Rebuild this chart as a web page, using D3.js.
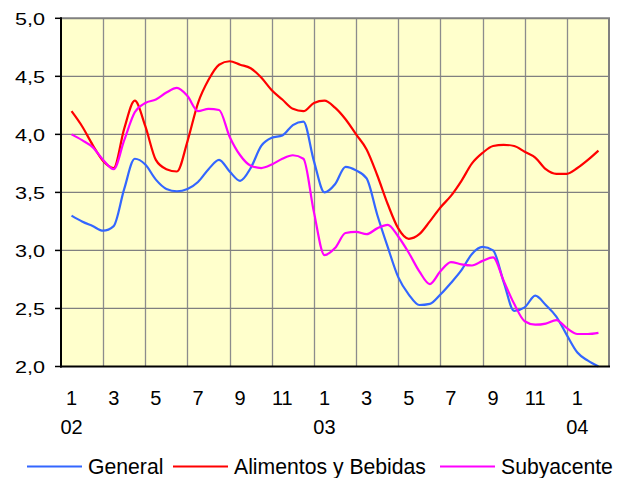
<!DOCTYPE html>
<html>
<head>
<meta charset="utf-8">
<script src="https://cdn.jsdelivr.net/npm/d3@7"></script>
<style>
  html, body { margin: 0; padding: 0; background: #ffffff; }
  svg { display: block; }
  text { font-family: "Liberation Sans", Arial, sans-serif; fill: #000; }
</style>
</head>
<body>
<svg id="chart" width="626" height="478"></svg>
<script>
// Half-monthly observations, Jan 2002 (index 0) to Feb 2004 (index 25)
const general = [3.30,3.25,3.21,3.17,3.21,3.53,3.79,3.74,3.61,3.53,3.51,3.53,3.59,3.70,3.78,3.68,3.60,3.71,3.90,3.97,3.99,4.08,4.11,3.77,3.50,3.57,3.72,3.69,3.62,3.31,3.03,2.77,2.62,2.53,2.54,2.62,2.72,2.83,2.97,3.03,3.00,2.73,2.48,2.51,2.61,2.53,2.43,2.27,2.12,2.05,2.00];
const alimentos = [4.20,4.07,3.91,3.77,3.71,4.05,4.29,4.07,3.78,3.70,3.68,3.94,4.27,4.47,4.60,4.63,4.60,4.57,4.49,4.38,4.30,4.22,4.20,4.27,4.29,4.23,4.13,4.00,3.87,3.65,3.40,3.19,3.10,3.14,3.25,3.37,3.47,3.60,3.75,3.84,3.90,3.91,3.90,3.85,3.80,3.70,3.66,3.66,3.71,3.78,3.86];
const subyacente = [4.00,3.95,3.89,3.78,3.70,3.95,4.19,4.27,4.30,4.36,4.40,4.33,4.20,4.22,4.21,3.98,3.82,3.73,3.71,3.74,3.79,3.82,3.79,3.33,2.96,3.02,3.15,3.16,3.14,3.19,3.22,3.12,2.98,2.82,2.71,2.82,2.90,2.88,2.87,2.91,2.94,2.74,2.54,2.39,2.36,2.37,2.40,2.33,2.28,2.28,2.29];
const monthLabels = ["1","3","5","7","9","11","1","3","5","7","9","11","1"];
const yearLabels = ["02","03","04"];
const yTicks = [2.0,2.5,3.0,3.5,4.0,4.5,5.0];
const seriesNames = ["General","Alimentos y Bebidas","Subyacente"];
const seriesColors = ["#3366FF","#FF0000","#FF00FF"];

const svg = d3.select("#chart");
const L = 61, R = 609, T = 18.3, B = 366.5;
const nMonths = 26;
const x = d3.scaleLinear().domain([-0.5, nMonths - 0.5]).range([L, R]);
const y = d3.scaleLinear().domain([2, 5]).range([B, T]);

// plot background
svg.append("rect").attr("x", L).attr("y", T).attr("width", R - L).attr("height", B - T)
  .attr("fill", "#FFFFCC");

// gridlines
const vGrid = d3.range(1, 13).map(k => -0.5 + 2 * k);
svg.append("g").selectAll("line").data(vGrid).join("line")
  .attr("x1", d => Math.round(x(d)) + 0.5).attr("x2", d => Math.round(x(d)) + 0.5)
  .attr("y1", T).attr("y2", B)
  .attr("stroke", "#8c8c8c").attr("stroke-width", 1.3);
svg.append("g").selectAll("line").data(yTicks.slice(1, -1)).join("line")
  .attr("x1", L).attr("x2", R)
  .attr("y1", d => y(d)).attr("y2", d => y(d))
  .attr("stroke", "#808080").attr("stroke-width", 1.3);

// top and right border
svg.append("path")
  .attr("d", `M${L},${T}H${R}V${B}`)
  .attr("fill", "none").attr("stroke", "#808080").attr("stroke-width", 2);

// lines
const idx = d3.range(general.length).map(i => i * 0.5);
const allSeries = [general, alimentos, subyacente];
const lineGen = d3.line().x((d, i) => x(idx[i])).y(d => y(d)).curve(d3.curveMonotoneX);
const plot = svg.append("g");
allSeries.forEach((s, i) => {
  plot.append("path").datum(s)
    .attr("d", lineGen)
    .attr("fill", "none")
    .attr("stroke", seriesColors[i])
    .attr("stroke-width", 2.2)
    .attr("stroke-linejoin", "round");
});

// axes lines
svg.append("line").attr("x1", L).attr("x2", L).attr("y1", T - 1).attr("y2", B + 1)
  .attr("stroke", "#000").attr("stroke-width", 2);
svg.append("line").attr("x1", L - 1).attr("x2", R + 1).attr("y1", B).attr("y2", B)
  .attr("stroke", "#000").attr("stroke-width", 2);

// y ticks and labels
const yg = svg.append("g");
yg.selectAll("line").data(yTicks).join("line")
  .attr("x1", L - 6).attr("x2", L).attr("y1", d => y(d)).attr("y2", d => y(d))
  .attr("stroke", "#000").attr("stroke-width", 1.5);
yg.selectAll("text").data(yTicks).join("text")
  .attr("transform", d => `translate(45,${y(d) + 6.5}) scale(1.27,1)`)
  .attr("text-anchor", "end")
  .style("font-size", "17px")
  .text(d => d3.format(".1f")(d).replace(".", ","));

// x labels
const xg = svg.append("g");
xg.selectAll("text.m").data(monthLabels).join("text").attr("class", "m")
  .attr("x", (d, i) => x(i * 2)).attr("y", 405)
  .attr("text-anchor", "middle")
  .style("font-size", "20px")
  .text(d => d);
xg.selectAll("text.yr").data(yearLabels).join("text").attr("class", "yr")
  .attr("x", (d, i) => x(i * 12)).attr("y", 434)
  .attr("text-anchor", "middle")
  .style("font-size", "20px")
  .text(d => d);

// legend
const legendX = [27, 173, 440];
const lg = svg.append("g");
seriesNames.forEach((name, i) => {
  lg.append("line").attr("x1", legendX[i]).attr("x2", legendX[i] + 55)
    .attr("y1", 466.5).attr("y2", 466.5)
    .attr("stroke", seriesColors[i]).attr("stroke-width", 2);
  lg.append("text").attr("x", legendX[i] + 61).attr("y", 473.5)
    .style("font-size", "21.2px")
    .text(name);
});
</script>
</body>
</html>
